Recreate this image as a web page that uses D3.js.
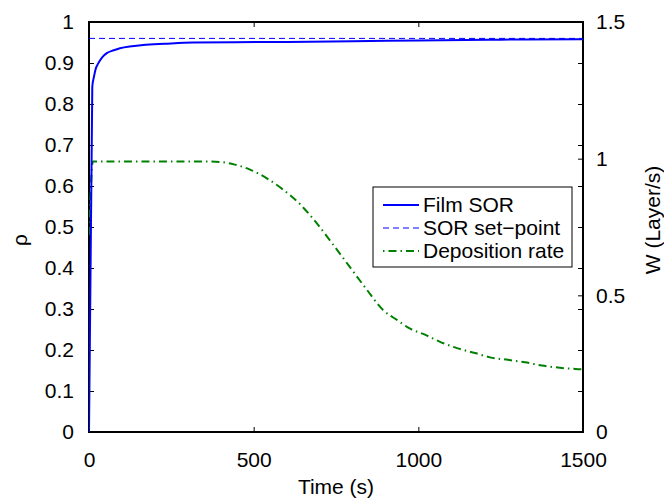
<!DOCTYPE html>
<html>
<head>
<meta charset="utf-8">
<script src="https://cdn.jsdelivr.net/npm/d3@7"></script>
<style>
  body { margin: 0; background: #fff; }
  text { font-family: "Liberation Sans", Arial, Helvetica, sans-serif; fill: #000; }
</style>
</head>
<body>
<script>
// Film SOR (left axis, rho)
var sorTime  = [0, 10, 15, 20, 28, 40, 54, 75, 94, 130, 164, 230, 316, 519, 800, 1000, 1250, 1500];
var sorValue = [0, 0.842, 0.866, 0.885, 0.899, 0.914, 0.924, 0.931, 0.936, 0.941, 0.944, 0.947, 0.950, 0.951, 0.953, 0.955, 0.957, 0.958];

// SOR set-point
var setPoint = 0.96;

// Deposition rate (right axis, W)
var rateTime  = [0, 12, 100, 200, 337, 400, 437, 489, 540, 589, 641, 692, 741, 793, 844, 893, 935, 975, 1020, 1066, 1117, 1172, 1218, 1272, 1324, 1375, 1430, 1485, 1500];
var rateValue = [0.72, 0.99, 0.99, 0.99, 0.99, 0.988, 0.98, 0.96, 0.928, 0.887, 0.833, 0.763, 0.686, 0.602, 0.52, 0.446, 0.41, 0.378, 0.356, 0.33, 0.307, 0.289, 0.273, 0.264, 0.255, 0.243, 0.235, 0.23, 0.229];

var xTicks = [0, 500, 1000, 1500];
var leftTicks = [0, 0.1, 0.2, 0.3, 0.4, 0.5, 0.6, 0.7, 0.8, 0.9, 1];
var rightTicks = [0, 0.5, 1, 1.5];
var legendLabels = ["Film SOR", "SOR set\u2212point", "Deposition rate"];

var width = 664, height = 499;
var margin = { top: 22, right: 81, bottom: 67, left: 89 };
var x0 = margin.left, x1 = width - margin.right;
var y0 = height - margin.bottom, y1 = margin.top;

var svg = d3.select("body").append("svg")
  .attr("width", width)
  .attr("height", height);

var xScale = d3.scaleLinear().domain([0, 1500]).range([x0, x1]);
var yLeft = d3.scaleLinear().domain([0, 1]).range([y0, y1]);
var yRight = d3.scaleLinear().domain([0, 1.5]).range([y0, y1]);

svg.append("clipPath").attr("id", "clip")
  .append("rect")
  .attr("x", x0).attr("y", y1)
  .attr("width", x1 - x0).attr("height", y0 - y1);

var fs = 21;

// axes (ticks inside, like matlab)
var bottomAxis = svg.append("g")
  .attr("transform", "translate(0," + y0 + ")")
  .call(d3.axisBottom(xScale).tickValues(xTicks).tickSizeInner(-5).tickSizeOuter(0).tickPadding(20).tickFormat(d3.format("d")));
var topAxis = svg.append("g")
  .attr("transform", "translate(0," + y1 + ")")
  .call(d3.axisTop(xScale).tickValues(xTicks).tickSizeInner(-5).tickSizeOuter(0).tickFormat(""));
var leftAxis = svg.append("g")
  .attr("transform", "translate(" + x0 + ",0)")
  .call(d3.axisLeft(yLeft).tickValues(leftTicks).tickSizeInner(-5).tickSizeOuter(0).tickPadding(15).tickFormat(d3.format("")));
var rightLeftTicks = svg.append("g")
  .attr("transform", "translate(" + x1 + ",0)")
  .call(d3.axisRight(yLeft).tickValues(leftTicks).tickSizeInner(-5).tickSizeOuter(0).tickFormat(""));
var rightAxis = svg.append("g")
  .attr("transform", "translate(" + x1 + ",0)")
  .call(d3.axisRight(yRight).tickValues(rightTicks).tickSizeInner(-5).tickSizeOuter(0).tickPadding(13).tickFormat(d3.format("")));

[bottomAxis, topAxis, leftAxis, rightLeftTicks, rightAxis].forEach(function (g) {
  g.select(".domain").remove();
  g.selectAll("line").attr("stroke", "#000").attr("stroke-width", 1);
  g.selectAll("text").attr("font-size", fs).attr("font-family", null);
});

// box
svg.append("rect")
  .attr("x", x0).attr("y", y1)
  .attr("width", x1 - x0).attr("height", y0 - y1)
  .attr("fill", "none")
  .attr("stroke", "#000")
  .attr("stroke-width", 2);

var plot = svg.append("g").attr("clip-path", "url(#clip)");

// set-point
plot.append("line")
  .attr("x1", xScale(0)).attr("x2", xScale(1500))
  .attr("y1", yLeft(setPoint)).attr("y2", yLeft(setPoint))
  .attr("stroke", "#0000ff")
  .attr("stroke-width", 1)
  .attr("stroke-dasharray", "6,4");

// deposition rate
var rateLine = d3.line()
  .x(function (d, i) { return xScale(rateTime[i]); })
  .y(function (d) { return yRight(d); })
  .curve(d3.curveMonotoneX);
plot.append("path")
  .attr("d", rateLine(rateValue))
  .attr("fill", "none")
  .attr("stroke", "#008000")
  .attr("stroke-width", 2)
  .attr("stroke-dasharray", "8,4,1.5,4");

// film sor
var sorLine = d3.line()
  .x(function (d, i) { return xScale(sorTime[i]); })
  .y(function (d) { return yLeft(d); })
  .curve(d3.curveMonotoneX);
plot.append("path")
  .attr("d", sorLine(sorValue))
  .attr("fill", "none")
  .attr("stroke", "#0000ff")
  .attr("stroke-width", 2);

// labels
svg.append("text")
  .attr("x", (x0 + x1) / 2)
  .attr("y", 494)
  .attr("text-anchor", "middle")
  .attr("font-size", fs)
  .text("Time (s)");

svg.append("text")
  .attr("transform", "translate(27," + 240 + ") rotate(-90)")
  .attr("text-anchor", "middle")
  .attr("font-size", fs)
  .text("\u03c1");

svg.append("text")
  .attr("transform", "translate(660," + 220 + ") rotate(-90)")
  .attr("text-anchor", "middle")
  .attr("font-size", fs)
  .text("W (Layer/s)");

// legend
var legend = svg.append("g");
legend.append("rect")
  .attr("x", 373).attr("y", 187)
  .attr("width", 199).attr("height", 80)
  .attr("fill", "#fff")
  .attr("stroke", "#000")
  .attr("stroke-width", 1);

var legendStyles = [
  { color: "#0000ff", w: 2, dash: null },
  { color: "#0000ff", w: 1, dash: "6,4" },
  { color: "#008000", w: 2, dash: "1.5,4,8,4" }
];

legendLabels.forEach(function (lab, i) {
  var yy = 205 + i * 23;
  legend.append("line")
    .attr("x1", 383).attr("x2", 419)
    .attr("y1", yy).attr("y2", yy)
    .attr("stroke", legendStyles[i].color)
    .attr("stroke-width", legendStyles[i].w)
    .attr("stroke-dasharray", legendStyles[i].dash);
  legend.append("text")
    .attr("x", 423)
    .attr("y", yy)
    .attr("dy", "0.35em")
    .attr("font-size", fs)
    .text(lab);
});
</script>
</body>
</html>
